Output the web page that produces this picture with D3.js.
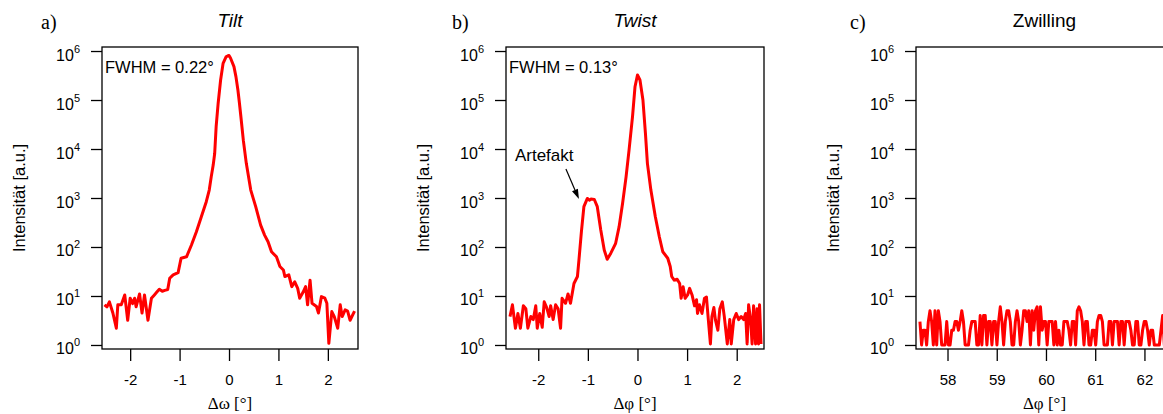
<!DOCTYPE html>
<html>
<head>
<meta charset="utf-8">
<script src="https://cdnjs.cloudflare.com/ajax/libs/d3/7.8.5/d3.min.js"></script>
<style>
    body { margin: 0; background: #fff; }
    text { font-family: "Liberation Sans", Arial, sans-serif; fill: #000; }
    .serif { font-family: "Liberation Serif", "Times New Roman", serif; }
</style>
</head>
<body>
<div id="chart"></div>
<script>
// a) Tilt - rocking curve (omega)
var tiltOmega = [-2.52, -2.47, -2.42, -2.35, -2.28, -2.25, -2.18, -2.11, -2.05, -2.00,
    -1.95, -1.91, -1.88, -1.81, -1.76, -1.71, -1.64, -1.57, -1.51, -1.46,
    -1.41, -1.35, -1.30, -1.24, -1.20, -1.13, -1.03, -0.97, -0.86, -0.76,
    -0.66, -0.56, -0.46, -0.40, -0.36, -0.32, -0.29, -0.26, -0.22, -0.17,
    -0.12, -0.06, -0.03, 0.00, 0.03, 0.10, 0.14, 0.18, 0.21, 0.24,
    0.29, 0.35, 0.44, 0.54, 0.64, 0.72, 0.79, 0.86, 0.96, 1.03,
    1.10, 1.13, 1.21, 1.27, 1.33, 1.39, 1.43, 1.50, 1.55, 1.59,
    1.64, 1.68, 1.77, 1.81, 1.87, 1.94, 1.98, 2.02, 2.08, 2.13,
    2.20, 2.25, 2.29, 2.35, 2.40, 2.45, 2.54];
var tiltCounts = [6.6, 6.0, 7.6, 4.5, 2.2, 6.6, 6.6, 10.5, 3.2, 9,
    7, 9, 6, 11, 4.5, 10.5, 3.2, 9, 10.5, 12,
    13.7, 12.5, 13, 13.5, 23, 27, 30, 59, 63, 110,
    205, 415, 840, 1450, 2700, 4700, 8100, 29000, 85000, 256000,
    560000, 760000, 790000, 810000, 720000, 480000, 300000, 160000, 88000, 46000,
    15000, 5100, 1450, 665, 280, 175, 128, 80, 63, 40,
    34, 25, 27, 15.5, 19.5, 14.3, 9, 12, 15.5, 6.6,
    21, 7.1, 6.1, 4.5, 9.7, 9, 7.1, 1.08, 4.8, 3.8,
    2.2, 6.6, 3.8, 5.2, 4.9, 3.2, 4.9];

// b) Twist - phi scan
var twistPhi = [-2.57, -2.52, -2.46, -2.41, -2.36, -2.30, -2.25, -2.21, -2.15, -2.10,
    -2.05, -2.02, -1.97, -1.92, -1.88, -1.83, -1.78, -1.75, -1.70, -1.65,
    -1.60, -1.55, -1.52, -1.45, -1.40, -1.35, -1.31, -1.28, -1.21, -1.18,
    -1.13, -1.08, -1.01, -0.97, -0.94, -0.87, -0.81, -0.74, -0.67, -0.61,
    -0.54, -0.44, -0.37, -0.30, -0.23, -0.17, -0.10, -0.05, 0.00, 0.05,
    0.11, 0.16, 0.20, 0.27, 0.36, 0.44, 0.51, 0.61, 0.66, 0.69,
    0.74, 0.80, 0.85, 0.88, 0.92, 0.96, 1.01, 1.05, 1.10, 1.15,
    1.19, 1.21, 1.25, 1.30, 1.35, 1.39, 1.43, 1.47, 1.50, 1.54,
    1.57, 1.62, 1.66, 1.71, 1.75, 1.81, 1.86, 1.89, 1.94, 1.99,
    2.04, 2.09, 2.14, 2.18, 2.21, 2.24, 2.28, 2.31, 2.34, 2.38,
    2.41, 2.44, 2.46, 2.49];
var twistCounts = [3.8, 6.6, 2.2, 4.4, 2.2, 6.3, 5.5, 2.2, 3.8, 3.3,
    6.3, 2.2, 4.4, 2.3, 7.6, 5.8, 3.8, 6.3, 3.3, 6.6,
    5.5, 2.2, 9, 7.1, 11, 7.1, 12, 18, 25, 54,
    205, 665, 980, 900, 950, 930, 665, 222, 87, 56,
    74, 119, 260, 780, 2700, 9500, 46000, 186000, 324000, 256000,
    100000, 21000, 5100, 1450, 415, 162, 80, 59, 40, 25,
    21, 22, 18, 9, 15.5, 9, 10.5, 14.3, 10.5, 6.3,
    8.4, 4.4, 6.6, 4.4, 9, 9.5, 3.1, 1.05, 3.8, 5.8,
    3.3, 2.0, 5.5, 7.6, 3.8, 1.05, 3.3, 1.05, 3.3, 4.4,
    3.3, 3.8, 3.3, 4.4, 1.05, 6.6, 3.3, 1.05, 6.3, 1.05,
    5.5, 1.05, 6.6, 1.05];

// c) Zwilling - phi scan around 60 deg
var twinPhi = [57.440, 57.474, 57.508, 57.542, 57.576, 57.610, 57.644, 57.678, 57.712, 57.746,
    57.780, 57.814, 57.848, 57.882, 57.916, 57.950, 57.984, 58.018, 58.052, 58.086,
    58.120, 58.154, 58.188, 58.222, 58.256, 58.290, 58.324, 58.358, 58.392, 58.426,
    58.460, 58.494, 58.528, 58.562, 58.596, 58.630, 58.664, 58.698, 58.732, 58.766,
    58.800, 58.834, 58.868, 58.902, 58.936, 58.970, 59.004, 59.038, 59.072, 59.106,
    59.140, 59.174, 59.208, 59.242, 59.276, 59.310, 59.344, 59.378, 59.412, 59.446,
    59.480, 59.514, 59.548, 59.582, 59.616, 59.650, 59.684, 59.718, 59.752, 59.786,
    59.820, 59.854, 59.888, 59.922, 59.956, 59.990, 60.024, 60.058, 60.092, 60.126,
    60.160, 60.194, 60.228, 60.262, 60.296, 60.330, 60.364, 60.398, 60.432, 60.466,
    60.500, 60.534, 60.568, 60.602, 60.636, 60.670, 60.704, 60.738, 60.772, 60.806,
    60.840, 60.874, 60.908, 60.942, 60.976, 61.010, 61.044, 61.078, 61.112, 61.146,
    61.180, 61.214, 61.248, 61.282, 61.316, 61.350, 61.384, 61.418, 61.452, 61.486,
    61.520, 61.554, 61.588, 61.622, 61.656, 61.690, 61.724, 61.758, 61.792, 61.826,
    61.860, 61.894, 61.928, 61.962, 61.996, 62.030, 62.064, 62.098, 62.132, 62.166,
    62.200, 62.234, 62.268, 62.302, 62.336, 62.370, 62.404, 62.438, 62.472, 62.506,
    62.540, 62.574];
var twinCounts = [3, 1, 2, 2, 1, 3, 5, 3, 1, 5,
    1, 5, 3, 1, 1, 1, 3, 1, 1, 2,
    2, 3, 3, 2, 3, 5, 3, 1, 1, 1,
    2, 3, 3, 3, 1, 1, 4, 1, 4, 4,
    1, 3, 3, 1, 3, 3, 1, 3, 6, 3,
    1, 3, 5, 5, 3, 1, 1, 3, 5, 3,
    1, 2, 5, 5, 3, 5, 1, 5, 2, 5,
    6, 1, 6, 2, 3, 3, 1, 3, 3, 3,
    1, 3, 1, 2, 1, 1, 3, 3, 3, 2,
    1, 3, 3, 1, 5, 6, 5, 3, 1, 3,
    3, 1, 1, 2, 2, 1, 3, 4, 4, 3,
    1, 1, 1, 3, 3, 1, 3, 3, 3, 1,
    3, 3, 1, 3, 3, 3, 2, 1, 1, 3,
    3, 1, 1, 2, 3, 3, 2, 1, 2, 2,
    1, 1, 1, 1, 2, 4, 1, 2, 1, 2,
    1, 3];

// tick values
var xTicksAngle = [-2, -1, 0, 1, 2];
var xTicksTwin = [58, 59, 60, 61, 62];
var yTickExp = [0, 1, 2, 3, 4, 5, 6];

var width = 1163,
    height = 414,
    plotTop = 47,
    plotBottom = 349;

var svg = d3.select('#chart')
    .append('svg')
    .attr('width', width)
    .attr('height', height);

// same log axis for all three panels
var yScale = d3.scaleLog()
    .domain([Math.pow(10, -0.082), Math.pow(10, 6.082)])
    .range([plotBottom, plotTop]);

var panels = [
    {tag: 'a)', tagX: 41, title: 'Tilt', italic: true, xLabel: 'Δω [°]',
        left: 102, right: 358, domain: [-2.57, 2.61], ticks: xTicksAngle,
        xs: tiltOmega, ys: tiltCounts, note: 'FWHM = 0.22°'},
    {tag: 'b)', tagX: 452, title: 'Twist', italic: true, xLabel: 'Δφ [°]',
        left: 506, right: 764, domain: [-2.65, 2.55], ticks: xTicksAngle,
        xs: twistPhi, ys: twistCounts, note: 'FWHM = 0.13°'},
    {tag: 'c)', tagX: 850, title: 'Zwilling', italic: false, xLabel: 'Δφ [°]',
        left: 916, right: 1173, domain: [57.36, 62.58], ticks: xTicksTwin,
        xs: twinPhi, ys: twinCounts, note: null}
];

panels.forEach(function(p, k) {
    var xScale = d3.scaleLinear()
        .domain(p.domain)
        .range([p.left, p.right]);

    // clip so the curve stays inside the frame
    svg.append('clipPath')
        .attr('id', 'clip' + k)
        .append('rect')
        .attr('x', p.left)
        .attr('y', plotTop)
        .attr('width', p.right - p.left)
        .attr('height', plotBottom - plotTop);

    // data line
    var line = d3.line()
        .x(function(d) { return xScale(d[0]); })
        .y(function(d) { return yScale(d[1]); });
    svg.append('path')
        .datum(d3.zip(p.xs, p.ys))
        .attr('clip-path', 'url(#clip' + k + ')')
        .attr('fill', 'none')
        .attr('stroke', '#ff0000')
        .attr('stroke-width', 3)
        .attr('stroke-linejoin', 'round')
        .attr('d', line);

    // frame
    svg.append('rect')
        .attr('x', p.left)
        .attr('y', plotTop)
        .attr('width', p.right - p.left)
        .attr('height', plotBottom - plotTop)
        .attr('fill', 'none')
        .attr('stroke', '#000')
        .attr('stroke-width', 1.3);

    // x axis
    var xAxis = d3.axisBottom(xScale)
        .tickValues(p.ticks)
        .tickSize(12)
        .tickSizeOuter(0)
        .tickPadding(13)
        .tickFormat(function(d) { return String(d); });
    var gx = svg.append('g')
        .attr('transform', 'translate(0,' + plotBottom + ')')
        .call(xAxis);
    gx.select('.domain').remove();
    gx.selectAll('line').attr('stroke-width', 1.3);
    gx.selectAll('text')
        .style('font-family', '"Liberation Sans", Arial, sans-serif')
        .attr('font-size', 15);

    // y axis, labels drawn as 10 with superscript
    var yAxis = d3.axisLeft(yScale)
        .tickValues(yTickExp.map(function(e) { return Math.pow(10, e); }))
        .tickSize(11)
        .tickSizeOuter(0)
        .tickFormat('');
    var gy = svg.append('g')
        .attr('transform', 'translate(' + p.left + ',0)')
        .call(yAxis);
    gy.select('.domain').remove();
    gy.selectAll('line').attr('stroke-width', 1.3);
    gy.selectAll('.tick').each(function(d) {
        var t = d3.select(this).append('text')
            .attr('x', -22)
            .attr('y', 9)
            .attr('text-anchor', 'end')
            .style('font-family', '"Liberation Sans", Arial, sans-serif')
            .attr('font-size', 16);
        t.append('tspan').text('10');
        t.append('tspan')
            .attr('dy', -8)
            .attr('font-size', 11)
            .text(Math.round(Math.log10(d)));
    });

    // y label
    var midY = (plotTop + plotBottom) / 2;
    svg.append('text')
        .attr('transform', 'translate(' + (p.left - 77) + ',' + midY + ') rotate(-90)')
        .attr('text-anchor', 'middle')
        .attr('font-size', 16.5)
        .text('Intensität [a.u.]');

    // x label
    svg.append('text')
        .attr('class', 'serif')
        .attr('x', (p.left + p.right) / 2)
        .attr('y', 409)
        .attr('text-anchor', 'middle')
        .attr('font-size', 17)
        .text(p.xLabel);

    // panel tag and title
    svg.append('text')
        .attr('class', 'serif')
        .attr('x', p.tagX)
        .attr('y', 29)
        .attr('font-size', 20)
        .text(p.tag);
    svg.append('text')
        .attr('x', (p.left + p.right) / 2)
        .attr('y', 27)
        .attr('text-anchor', 'middle')
        .attr('font-size', 19)
        .attr('font-style', p.italic ? 'italic' : 'normal')
        .text(p.title);

    if (p.note) {
        svg.append('text')
            .attr('x', p.left + 3)
            .attr('y', 73)
            .attr('font-size', 16.5)
            .text(p.note);
    }

    // artefakt arrow on the twist panel
    if (k === 1) {
        var tipX = xScale(-1.18), tipY = yScale(950);
        var tailX = tipX - 13, tailY = tipY - 30;
        var ang = Math.atan2(tipY - tailY, tipX - tailX);
        var headLen = 10, headW = 3.2;
        var bx = tipX - headLen * Math.cos(ang), by = tipY - headLen * Math.sin(ang);
        svg.append('line')
            .attr('x1', tailX).attr('y1', tailY)
            .attr('x2', bx).attr('y2', by)
            .attr('stroke', '#000')
            .attr('stroke-width', 1.2);
        svg.append('path')
            .attr('d', 'M' + tipX + ',' + tipY +
                'L' + (bx + headW * Math.sin(ang)) + ',' + (by - headW * Math.cos(ang)) +
                'L' + (bx - headW * Math.sin(ang)) + ',' + (by + headW * Math.cos(ang)) + 'Z')
            .attr('fill', '#000');
        svg.append('text')
            .attr('x', tailX - 51)
            .attr('y', tailY - 8)
            .attr('font-size', 17)
            .text('Artefakt');
    }
});
</script>
</body>
</html>
